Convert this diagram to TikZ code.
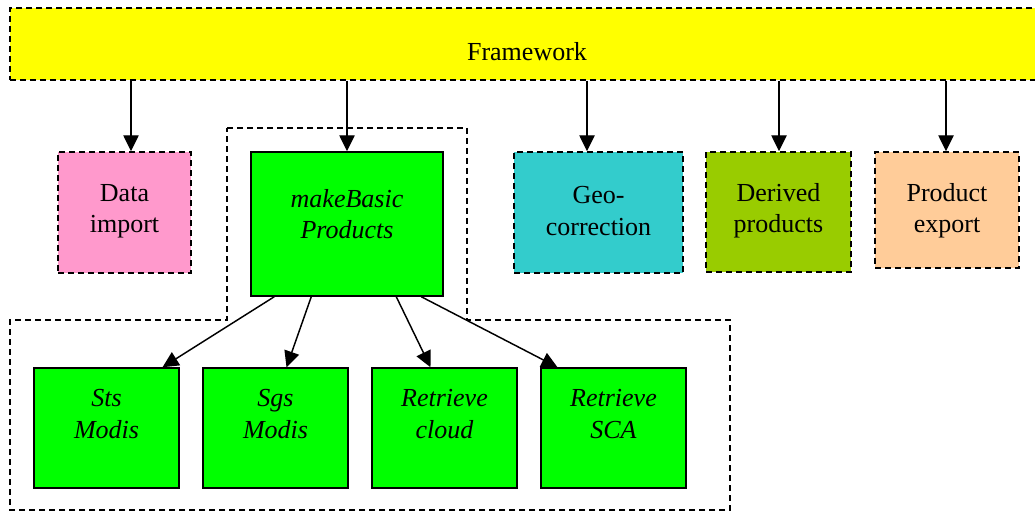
\documentclass[tikz,border=0pt]{standalone}
\usepackage{fontspec}
\setmainfont{Liberation Serif}
\usetikzlibrary{arrows.meta,calc,fit}
\definecolor{fwyellow}{HTML}{FFFF00}
\definecolor{pinkc}{HTML}{FF99CC}
\definecolor{greenc}{HTML}{00FF00}
\definecolor{tealc}{HTML}{33CCCC}
\definecolor{olivec}{HTML}{99CC00}
\definecolor{peachc}{HTML}{FFCC99}
\begin{document}
\begin{tikzpicture}[x=0.75pt,y=-0.75pt,
  txt/.style={font=\fontsize{19.5}{23.5}\selectfont,align=center,inner sep=0pt},
  dashbox/.style={draw=black,line width=1.1pt,dash pattern=on 4.5pt off 3pt,inner sep=0pt},
  solidbox/.style={draw=black,line width=1.1pt,inner sep=0pt,fill=greenc},
  itxt/.style={txt,font=\fontsize{19.5}{23.5}\selectfont\itshape},
  dashline/.style={draw=black,line width=1.1pt,dash pattern=on 4.5pt off 3pt},
  arr/.style={draw=black,line width=1.1pt,-{Triangle[length=12pt,width=11.5pt]}}
]
\useasboundingbox (0,0) rectangle (1035,513);

% framework bar
\node[dashbox,fill=fwyellow,fit={(10,8)(1045,80)}] (fw) {};
\node[txt] (fwt) at (527,52) {Framework};

% dashed group outline
\draw[dashline] (227,128) -- (467,128) -- (467,320) -- (730,320) -- (730,510)
  -- (10,510) -- (10,320) -- (227,320) -- cycle;

% top row
\node[dashbox,fill=pinkc,fit={(58,152)(191,273)}] (di) {};
\node[txt] (dit) at (124.5,211) {Data\\import};
\node[solidbox,fit={(251,152)(443,296)}] (mb) {};
\node[itxt] (mbt) at (347,214) {makeBasic\\Products};
\node[dashbox,fill=tealc,fit={(514,152)(683,273)}] (geo) {};
\node[txt] (geot) at (598.5,211) {Geo-\\correction};
\node[dashbox,fill=olivec,fit={(706,152)(851,272)}] (der) {};
\node[txt] (dert) at (778.5,211) {Derived\\products};
\node[dashbox,fill=peachc,fit={(875,152)(1019,268)}] (pe) {};
\node[txt] (pet) at (947,211) {Product\\export};

% bottom row
\node[solidbox,fit={(34,368)(179,488)}] (sts) {};
\node[itxt] (stst) at (106.5,414) {Sts\\Modis};
\node[solidbox,fit={(203,368)(348,488)}] (sgs) {};
\node[itxt] (sgst) at (275.5,414) {Sgs\\Modis};
\node[solidbox,fit={(372,368)(517,488)}] (rc) {};
\node[itxt] (rct) at (444.5,414) {Retrieve\\cloud};
\node[solidbox,fit={(541,368)(686,488)}] (rs) {};
\node[itxt] (rst) at (613.5,414) {Retrieve\\SCA};

% framework arrows
\coordinate (x1) at (131,0);
\coordinate (x2) at (347,0);
\coordinate (x3) at (587,0);
\coordinate (x4) at (779,0);
\coordinate (x5) at (946,0);
\draw[arr] (fw.south -| x1) -- (di.north -| x1);
\draw[arr] (fw.south -| x2) -- (mb.north -| x2);
\draw[arr] (fw.south -| x3) -- (geo.north -| x3);
\draw[arr] (fw.south -| x4) -- (der.north -| x4);
\draw[arr] (fw.south -| x5) -- (pe.north -| x5);

% makeBasic arrows
\draw[arr] ($(mb.south west)+(24,0)$) -- ($(sts.north)+(56,0)$);
\draw[arr] ($(mb.south west)+(61,0)$) -- ($(sgs.north)+(11,0)$);
\draw[arr] ($(mb.south west)+(146,0)$) -- ($(rc.north)+(-14,0)$);
\draw[arr] ($(mb.south west)+(171,0)$) -- ($(rs.north)+(-56,0)$);
\end{tikzpicture}
\end{document}
